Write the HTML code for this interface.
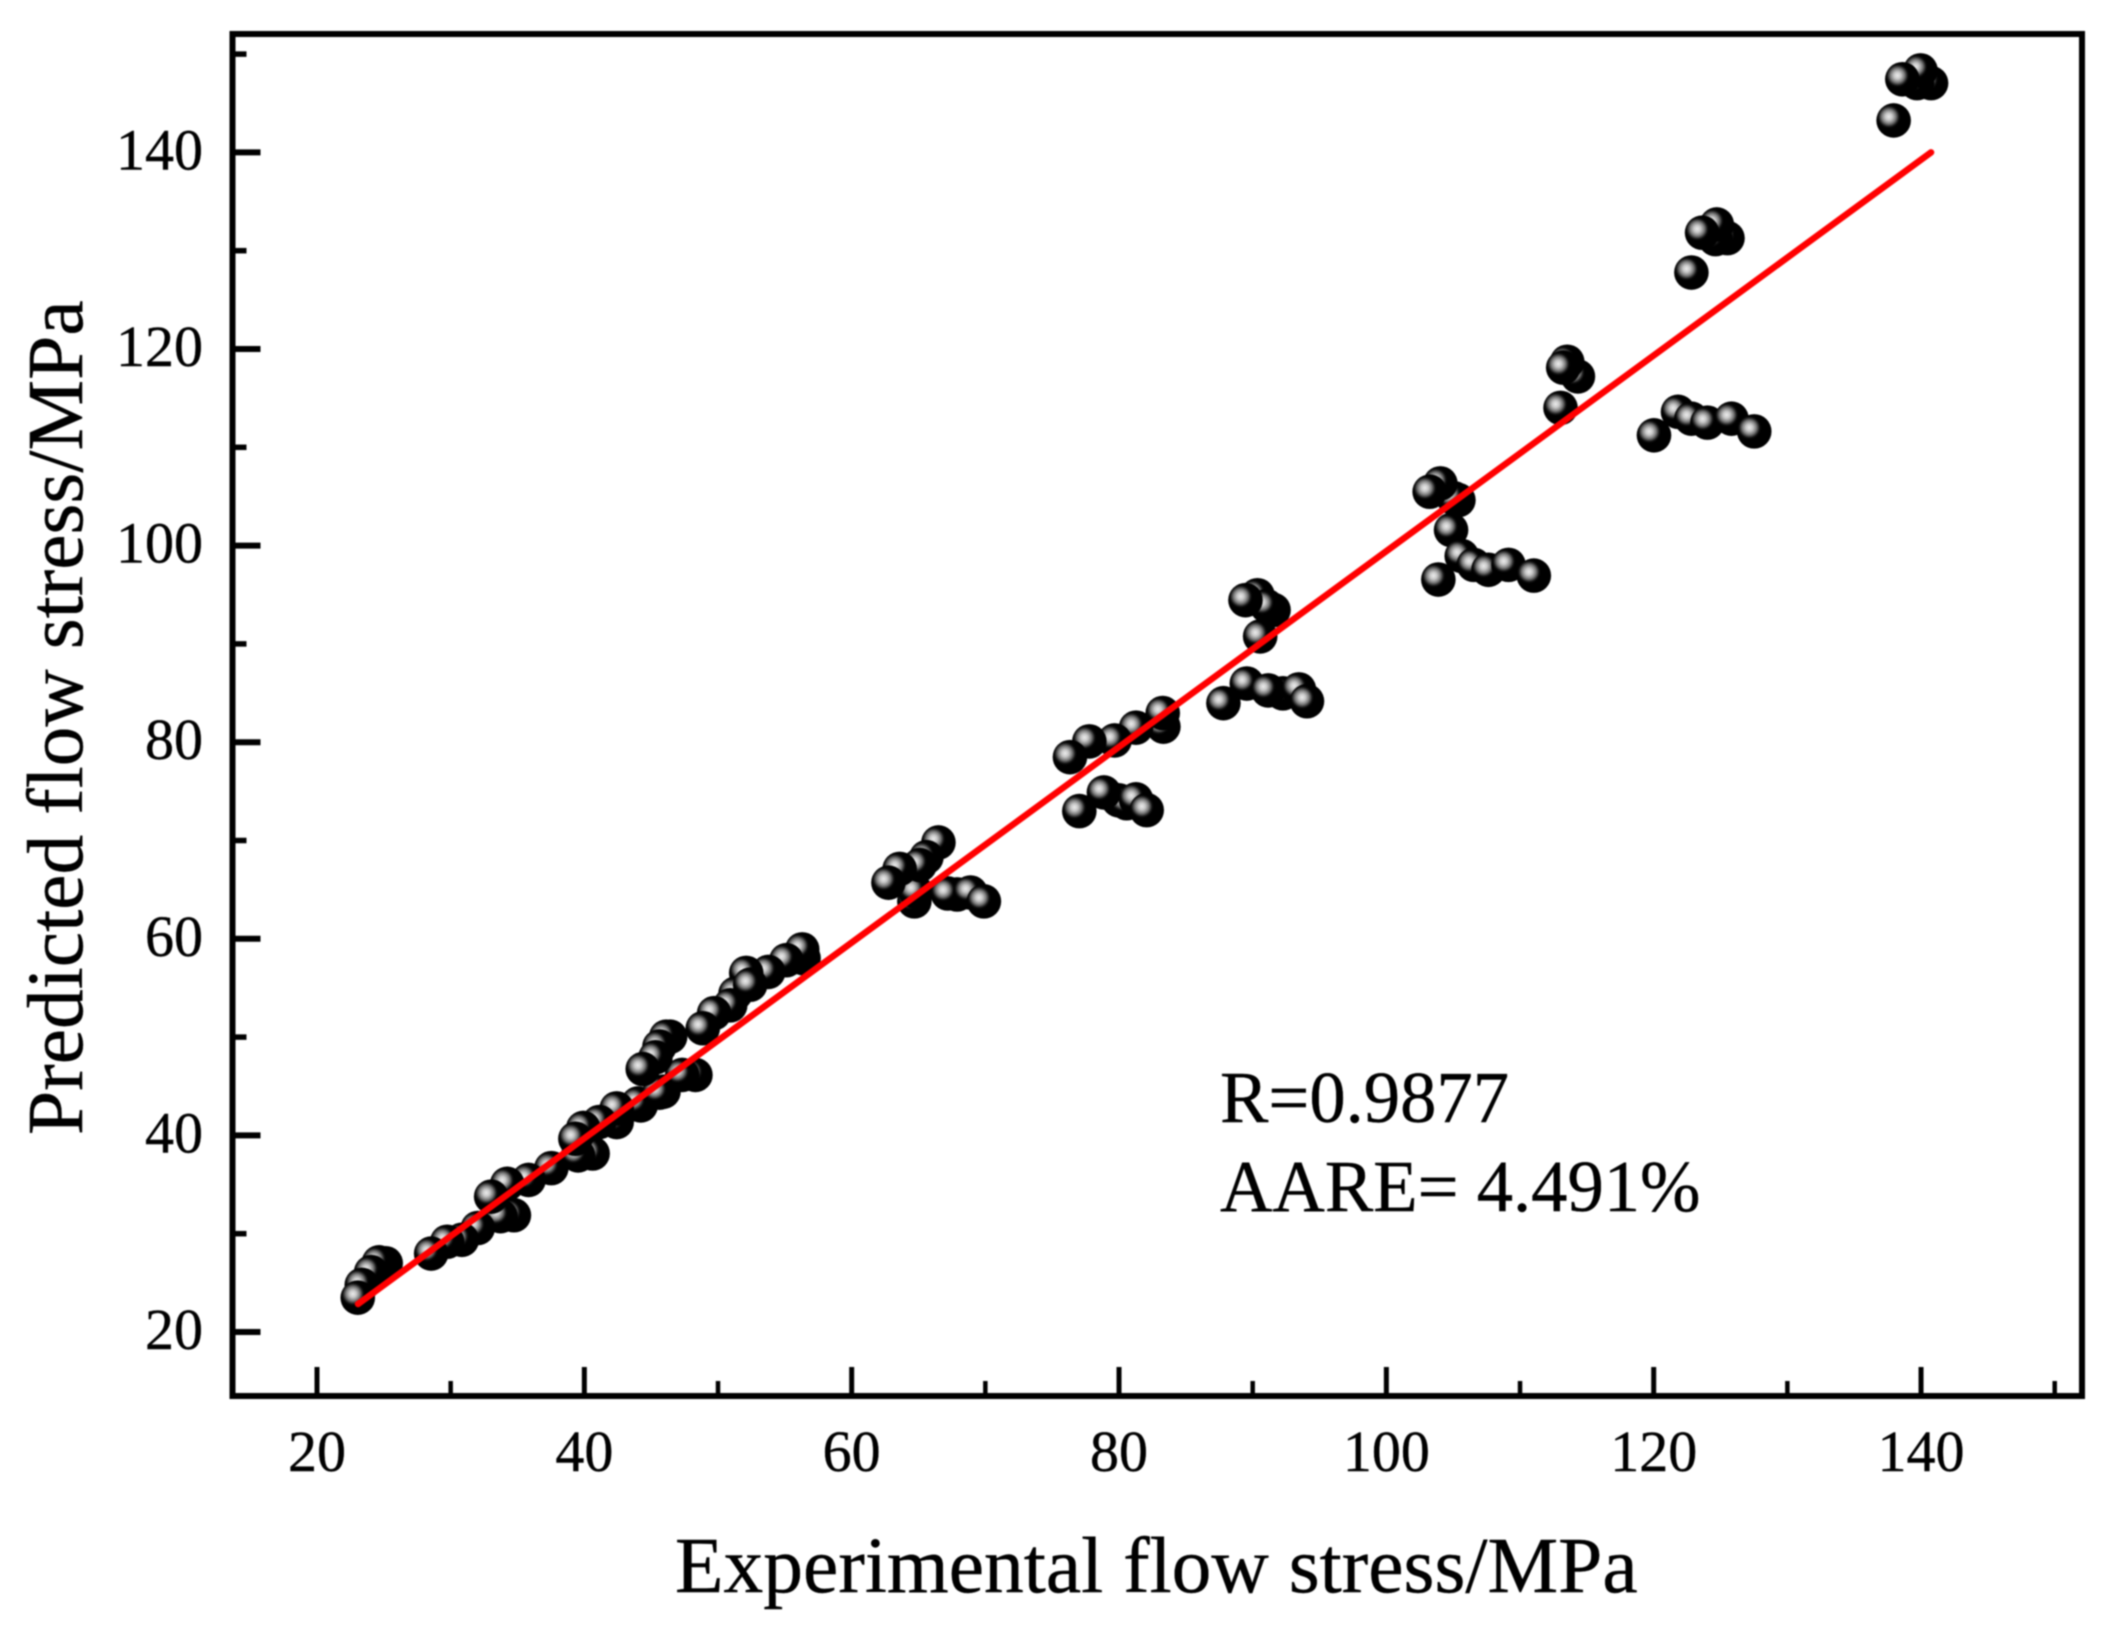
<!DOCTYPE html>
<html lang="en">
<head>
<meta charset="utf-8">
<title>Predicted vs experimental flow stress</title>
<style>
  html, body { margin: 0; padding: 0; background: #fff; }
  svg { display: block; filter: blur(0.8px); }
  text { font-family: "Liberation Serif", serif; fill: #000; stroke: #000; stroke-width: 0.4px; }
</style>
</head>
<body>
<svg id="chart" xmlns="http://www.w3.org/2000/svg" width="2119" height="1629" viewBox="0 0 2119 1629">
  <defs>
    <radialGradient id="ball" cx="0.36" cy="0.39" r="0.5" fx="0.36" fy="0.39">
      <stop offset="0" stop-color="#ececec"/>
      <stop offset="0.2" stop-color="#c8c8c8"/>
      <stop offset="0.4" stop-color="#7c7c7c"/>
      <stop offset="0.6" stop-color="#0e0e0e"/>
      <stop offset="0.68" stop-color="#000"/>
      <stop offset="1" stop-color="#000"/>
    </radialGradient>
  </defs>
  <g id="points"></g>
  <g id="fit"></g>
  <rect x="232.5" y="34" width="1849.5" height="1362" fill="none" stroke="#000" stroke-width="6"/>
  <g id="axes"></g>
  <text x="675" y="1592" font-size="79.5">Experimental flow stress/MPa</text>
  <text transform="translate(82 1135) rotate(-90)" font-size="79.5">Predicted flow stress/MPa</text>
  <text x="1220" y="1122" font-size="72.6">R=0.9877</text>
  <text x="1220" y="1211" font-size="72.6">AARE= 4.491%</text>
</svg>
<script>
const experimental = [
  25.14,24.64,24.05,23.35,23.05,
  34.73,33.73,32.03,30.84,29.74,28.54,
  37.53,35.83,34.23,33.03,
  40.62,39.53,45.92,44.22,44.02,42.42,42.42,41.12,39.92,39.33,
  48.31,47.32,45.62,46.42,46.12,45.62,45.32,44.37,
  56.4,56.3,55.11,53.76,52.11,51.31,50.91,52.41,49.71,48.86,
  64.69,64.79,67.89,67.19,68.89,69.89,
  66.49,65.59,65.09,63.59,62.75,
  79.97,80.57,77.03,78.87,81.27,82.07,
  83.32,83.27,81.27,79.67,77.78,76.33,
  92.26,87.81,89.56,91.16,93.46,94.06,
  90.36,91.56,91.06,89.46,90.56,
  105.39,105.04,104.04,103.24,104.84,
  103.89,105.64,106.54,107.64,109.14,111.03,
  114.33,113.53,113.23,113.03,
  120.02,121.82,122.82,124.02,125.82,127.52,
  125.52,124.62,124.72,123.62,122.82,
  140.75,139.7,139.96,138.6,137.95
];
const predicted = [
  26.99,27.09,26.09,24.79,23.49,
  31.88,31.78,30.58,29.38,29.18,27.98,
  36.67,35.47,35.07,33.77,
  38.16,37.96,44.45,43.05,43.25,41.36,42.75,41.36,40.76,39.66,
  46.15,46.15,44.35,50.04,50.04,49.04,47.94,46.75,
  58.02,58.92,57.82,56.63,56.53,54.43,53.23,55.33,52.44,50.9,
  63.81,64.81,64.51,64.61,64.71,63.81,
  69.8,68.3,67.5,67.11,65.71,
  74.09,73.79,72.99,74.89,74.19,73.09,
  81.58,82.97,81.48,80.18,80.08,78.48,
  84.97,83.97,85.97,85.27,85.37,84.17,
  94.95,93.45,93.85,94.45,90.76,
  104.63,104.83,106.33,105.48,101.59,
  96.55,98.94,98.04,97.54,98.04,96.95,
  117.21,118.7,118.1,114.01,
  111.22,113.61,112.91,112.51,112.91,111.62,
  131.28,131.18,132.67,131.83,127.78,
  147.05,147.05,148.34,147.44,143.25
];
const fitX = [23.07, 140.75];
const fitY = [22.85, 140];
const majorTicks = [20, 40, 60, 80, 100, 120, 140];
const minorTicks = [30, 50, 70, 90, 110, 130, 150];
const tickLabels = ["20", "40", "60", "80", "100", "120", "140"];

const NS = "http://www.w3.org/2000/svg";
function xScale(v) { return 317 + (v - 20) * 13.367; }
function yScale(v) { return 1332 - (v - 20) * 9.83; }
function make(tag, attrs, parent) {
  const el = document.createElementNS(NS, tag);
  for (const k in attrs) el.setAttribute(k, attrs[k]);
  parent.appendChild(el);
  return el;
}

const pointsGroup = document.getElementById("points");
experimental.forEach(function (xv, i) {
  const c = make("circle", { cx: xScale(xv), cy: yScale(predicted[i]), r: 17.3, fill: "url(#ball)" }, pointsGroup);
  
  
});

const fitGroup = document.getElementById("fit");
const fitLine = make("line", {
  x1: xScale(fitX[0]), y1: yScale(fitY[0]),
  x2: xScale(fitX[1]), y2: yScale(fitY[1]),
  stroke: "#ff0000", "stroke-width": 6.5, "stroke-linecap": "round"
}, fitGroup);



const axes = document.getElementById("axes");
const AXIS_BOTTOM = 1396;
const AXIS_LEFT = 232.5;

majorTicks.forEach(function (v, i) {
  const xt = make("line", { x1: xScale(v), x2: xScale(v), y1: AXIS_BOTTOM, y2: AXIS_BOTTOM - 29, stroke: "#000", "stroke-width": 5 }, axes);
  
  
  const yt = make("line", { x1: AXIS_LEFT, x2: AXIS_LEFT + 28, y1: yScale(v), y2: yScale(v), stroke: "#000", "stroke-width": 6 }, axes);
  
  
  const xl = make("text", { x: xScale(v), y: 1471, "text-anchor": "middle", "font-size": 58 }, axes);
  xl.textContent = tickLabels[i];
  
  
  const yl = make("text", { x: 203, y: yScale(v) + 17, "text-anchor": "end", "font-size": 58 }, axes);
  yl.textContent = tickLabels[i];
  
  
});

minorTicks.forEach(function (v) {
  const xm = make("line", { x1: xScale(v), x2: xScale(v), y1: AXIS_BOTTOM, y2: AXIS_BOTTOM - 15, stroke: "#000", "stroke-width": 4.5 }, axes);
  
  
  const ym = make("line", { x1: AXIS_LEFT, x2: AXIS_LEFT + 14, y1: yScale(v), y2: yScale(v), stroke: "#000", "stroke-width": 5.5 }, axes);
  
  
});
</script>
</body>
</html>
